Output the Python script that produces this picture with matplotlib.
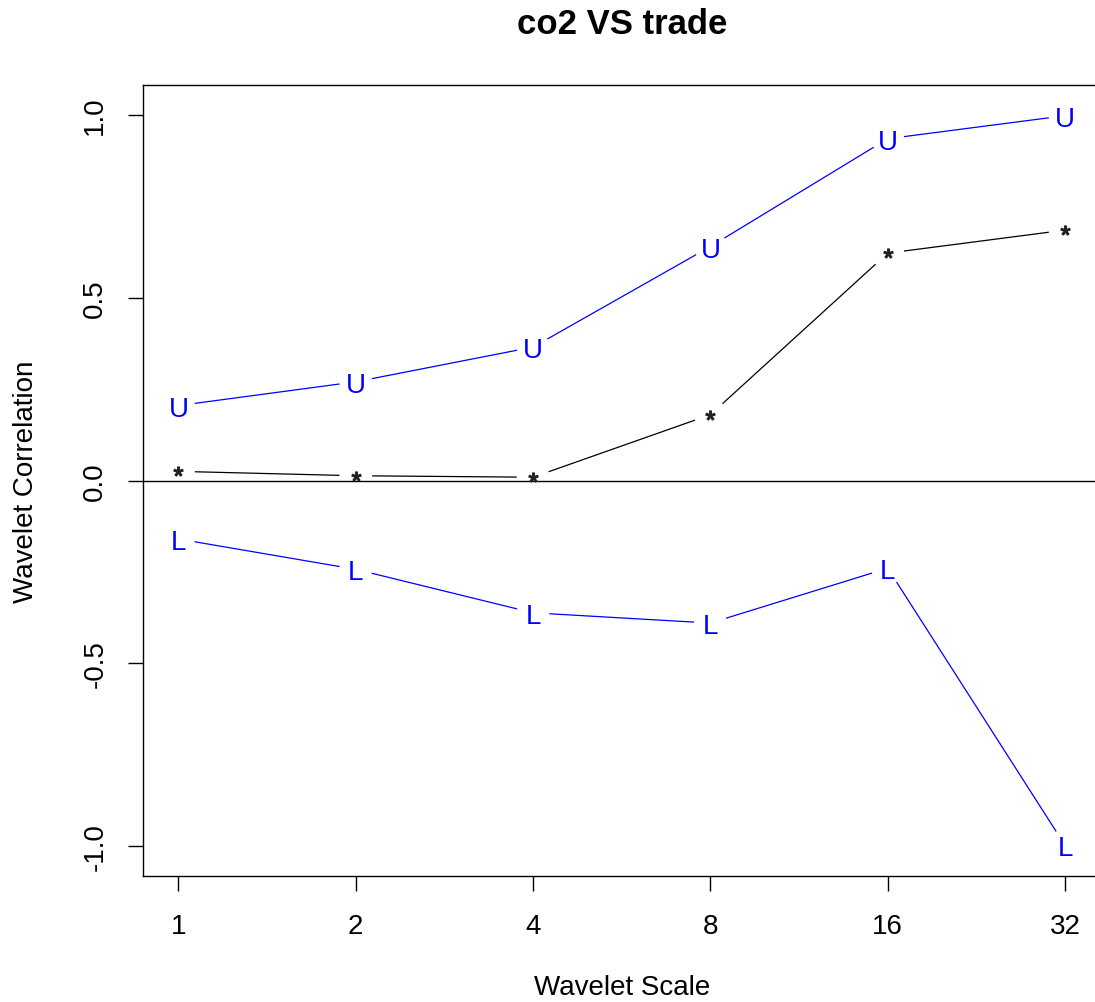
import numpy as np
import matplotlib
matplotlib.use('Agg')
import matplotlib.pyplot as plt
from matplotlib.ticker import NullLocator
from matplotlib.transforms import offset_copy

scales = [1, 2, 4, 8, 16, 32]
scale_labels = ['1', '2', '4', '8', '16', '32']
upper = [0.205, 0.27, 0.365, 0.64, 0.935, 0.998]
estimate = [0.025, 0.013, 0.009, 0.18, 0.622, 0.685]
lower = [-0.16, -0.243, -0.362, -0.39, -0.24, -0.998]
yticks = [-1.0, -0.5, 0.0, 0.5, 1.0]
ytick_labels = ['-1.0', '-0.5', '0.0', '0.5', '1.0']

plt.rcParams['font.family'] = ['Liberation Sans', 'DejaVu Sans']
plt.rcParams['mathtext.fontset'] = 'custom'
plt.rcParams['mathtext.rm'] = 'Liberation Sans'

W, H = 1095, 1003
fig = plt.figure(figsize=(W / 100, H / 100), dpi=100)
ax = fig.add_axes([143 / W, 126 / H, 957.5 / W, 791 / H])
ax.set_xscale('log', base=2)
ax.set_xlim(2 ** -0.2, 2 ** 5.2)
ax.set_ylim(-1.082, 1.082)

for s in ax.spines.values():
    s.set_linewidth(1.0)
    s.set_color('black')

ax.set_xticks(scales)
ax.set_xticklabels(scale_labels)
ax.xaxis.set_minor_locator(NullLocator())
ax.set_yticks(yticks)
ax.set_yticklabels(ytick_labels, rotation=90, va='center')
ax.tick_params(axis='both', length=11, width=1.0, labelsize=20, color='black')
ax.tick_params(axis='x', pad=16)
ax.tick_params(axis='y', pad=14)

ax.axhline(0, color='black', lw=1.0, zorder=3)


def gapped(xs, ys, color, gap=17):
    pts = ax.transData.transform(np.column_stack([xs, ys]))
    inv = ax.transData.inverted()
    for p0, p1 in zip(pts[:-1], pts[1:]):
        d = p1 - p0
        length = np.hypot(d[0], d[1])
        if length <= 2 * gap:
            continue
        u = d / length
        a = inv.transform(p0 + u * gap)
        b = inv.transform(p1 - u * gap)
        ax.plot([a[0], b[0]], [a[1], b[1]], color=color, lw=0.9, zorder=2)


gapped(scales, upper, 'blue')
gapped(scales, lower, 'blue')
gapped(scales, estimate, 'black')

letter_tr = offset_copy(ax.transData, fig=fig, x=0, y=-3, units='dots')
for x, y in zip(scales, upper):
    ax.text(x, y, 'U', color='blue', fontsize=20, ha='center', va='center',
            zorder=4, transform=letter_tr)
for x, y in zip(scales, lower):
    ax.text(x, y, 'L', color='blue', fontsize=20, ha='center', va='center',
            zorder=4, transform=letter_tr)
ax.plot(scales, estimate, linestyle='none', marker=r'$*$', markersize=6.5,
        color='#222222', zorder=4)

ax.set_xlabel('Wavelet Scale', fontsize=20, labelpad=25)
ax.set_ylabel('Wavelet Correlation', fontsize=20, labelpad=31)
fig.text((143 + 1100.5) / 2 / W, 1 - 24 / H, 'co2 VS trade', fontsize=25,
         fontweight='bold', ha='center', va='center')

fig.savefig('out.png', dpi=100)
